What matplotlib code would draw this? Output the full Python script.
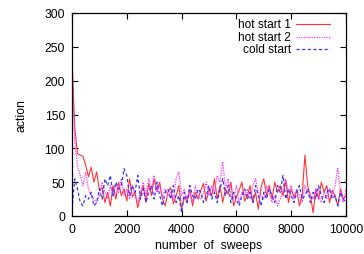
import matplotlib
matplotlib.use("Agg")
import matplotlib.pyplot as plt
from matplotlib.lines import Line2D

plt.rcParams['font.family'] = ['Liberation Sans', 'DejaVu Sans']

sweeps = list(range(0, 10001, 100))
hot1 = [230, 130, 92, 90, 88, 75, 58, 72, 50, 65,
        38, 42, 20, 35, 15, 45, 25, 50, 30, 40,
        22, 55, 28, 35, 12, 30, 45, 20, 48, 30,
        55, 38, 50, 25, 15, 35, 42, 18, 30, 45,
        10, 28, 20, 40, 15, 35, 25, 38, 48, 22,
        40, 30, 55, 25, 45, 20, 40, 32, 50, 15,
        28, 38, 50, 22, 30, 45, 20, 35, 10, 42,
        55, 30, 45, 25, 50, 35, 45, 30, 52, 20,
        40, 28, 38, 15, 30, 90, 45, 30, 5, 40,
        25, 50, 35, 45, 20, 38, 30, 15, 40, 25, 30]
hot2 = [230, 110, 75, 60, 45, 65, 40, 30, 25, 20,
        30, 50, 35, 25, 45, 30, 48, 35, 55, 30,
        40, 25, 45, 30, 20, 35, 50, 30, 55, 40,
        60, 35, 45, 28, 40, 30, 35, 25, 55, 65,
        30, 40, 25, 35, 20, 45, 30, 25, 35, 50,
        30, 45, 35, 60, 50, 80, 40, 55, 30, 25,
        45, 20, 35, 30, 40, 25, 45, 55, 35, 30,
        25, 45, 35, 20, 30, 15, 25, 40, 55, 35,
        45, 25, 40, 30, 20, 45, 35, 30, 25, 40,
        30, 20, 35, 25, 40, 30, 45, 70, 35, 20, 40]
cold = [10, 55, 40, 20, 15, 30, 25, 35, 15, 20,
        40, 25, 55, 45, 60, 30, 50, 40, 45, 70,
        60, 30, 45, 35, 60, 25, 40, 20, 35, 45,
        25, 50, 30, 15, 35, 40, 25, 45, 20, 30,
        5, 35, 20, 45, 30, 25, 40, 35, 20, 30,
        45, 25, 35, 20, 40, 55, 30, 45, 20, 35,
        25, 15, 30, 40, 25, 35, 20, 45, 30, 15,
        35, 25, 40, 30, 20, 45, 35, 60, 25, 40,
        30, 20, 35, 45, 25, 30, 40, 20, 35, 25,
        45, 30, 20, 35, 40, 25, 30, 15, 35, 25, 20]
labels = ["hot start 1", "hot start 2", "cold start"]
colors = ['#ff3333', '#ff33ff', '#3333ff']
styles = ['-', (0, (1, 1)), (0, (2.5, 2))]
widths = [0.8, 0.9, 0.9]

FS = 8.8
fig = plt.figure(figsize=(3.64, 2.55), dpi=100)
ax = fig.add_axes([72/364, 1-217/255, (346-72)/364, (217-14)/255])
for ys, c, s, w in zip([hot1, hot2, cold], colors, styles, widths):
    ax.plot(sweeps, ys, color=c, lw=w, ls=s)

ax.set_xlim(0, 10000)
ax.set_ylim(0, 300)
ax.set_xticks(range(0, 10001, 2000))
ax.set_yticks(range(0, 301, 50))
ax.tick_params(direction='in', top=True, right=True, length=4, width=0.8, labelsize=FS, pad=5)
for sp in ax.spines.values():
    sp.set_linewidth(0.9)
ax.set_xlabel("number  of  sweeps", fontsize=FS, labelpad=3)
ax.set_ylabel("action", fontsize=FS, labelpad=12)

# key drawn gnuplot-style: right-aligned text, sample line to its right
rows = [0.946, 0.884, 0.823]
for lab, c, s, w, yy in zip(labels, colors, styles, widths, rows):
    ax.text(0.799, yy, lab, transform=ax.transAxes, ha='right', va='center', fontsize=8.6)
    ax.add_line(Line2D([0.818, 0.942], [yy, yy], transform=ax.transAxes,
                       color=c, lw=w, ls=s))

fig.savefig("out.png", dpi=100)
